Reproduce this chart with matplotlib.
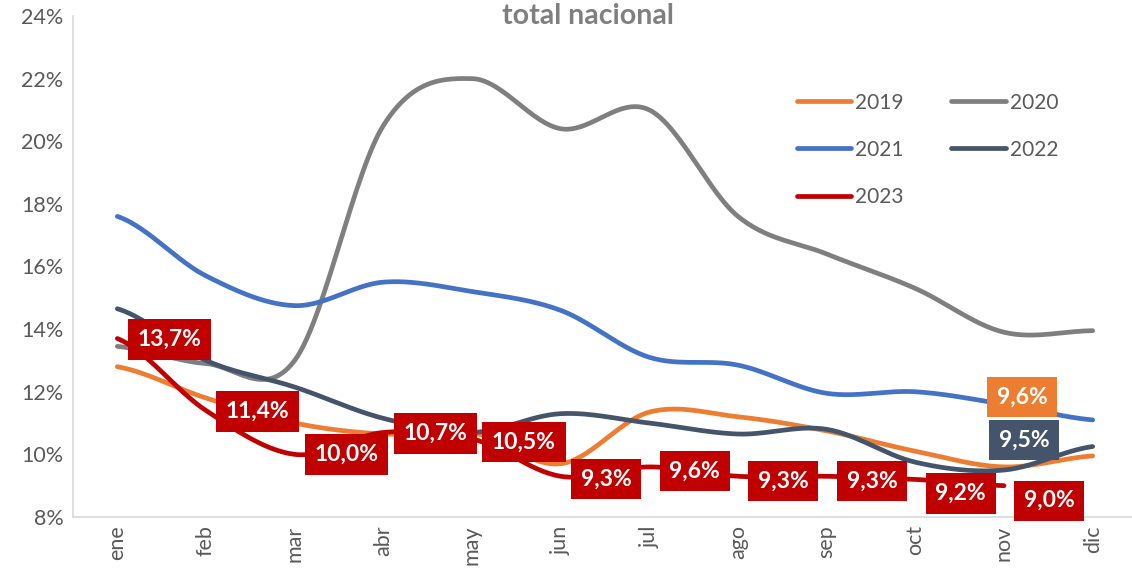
import numpy as np
import matplotlib
matplotlib.use("Agg")
import matplotlib.pyplot as plt
from matplotlib.ticker import FuncFormatter

plt.rcParams['font.family'] = ['Lato', 'DejaVu Sans']

# ---------------------------------------------------------------
# Data (tasa mensual, %)
# ---------------------------------------------------------------
months = ["ene", "feb", "mar", "abr", "may", "jun",
          "jul", "ago", "sep", "oct", "nov", "dic"]
y2019 = [12.8, 11.8, 11.0, 10.65, 10.7, 9.7, 11.35, 11.2, 10.75, 10.1, 9.6, 9.95]
y2020 = [13.45, 12.9, 13.0, 20.5, 22.0, 20.4, 21.0, 17.6, 16.4, 15.3, 13.9, 13.95]
y2021 = [17.6, 15.7, 14.75, 15.5, 15.2, 14.6, 13.1, 12.85, 11.95, 12.0, 11.6, 11.1]
y2022 = [14.65, 13.0, 12.15, 11.15, 10.7, 11.3, 11.0, 10.65, 10.8, 9.75, 9.5, 10.25]
y2023 = [13.7, 11.4, 10.0, 10.7, 10.5, 9.3, 9.6, 9.3, 9.3, 9.2, 9.0]

series = [("2019", y2019, "#ED7D31"),
          ("2020", y2020, "#7F7F7F"),
          ("2021", y2021, "#4472C4"),
          ("2022", y2022, "#44546A"),
          ("2023", y2023, "#C00000")]


def smooth(y, n=30):
    """Excel-style smoothed line (Catmull-Rom between category points)."""
    y = np.asarray(y, dtype=float)
    x = np.arange(len(y), dtype=float)
    ext = np.concatenate([[y[0]], y, [y[-1]]])
    xs, ys = [], []
    for i in range(len(y) - 1):
        p0, p1, p2, p3 = ext[i], ext[i + 1], ext[i + 2], ext[i + 3]
        m1 = (p2 - p0) / 2.0
        m2 = (p3 - p1) / 2.0
        t = np.linspace(0, 1, n, endpoint=(i == len(y) - 2))
        h00 = 2 * t**3 - 3 * t**2 + 1
        h10 = t**3 - 2 * t**2 + t
        h01 = -2 * t**3 + 3 * t**2
        h11 = t**3 - t**2
        xs.append(x[i] + t)
        ys.append(h00 * p1 + h10 * m1 + h01 * p2 + h11 * m2)
    return np.concatenate(xs), np.concatenate(ys)


fig = plt.figure(figsize=(11.32, 5.76), dpi=100)
ax = fig.add_axes([73 / 1132, 1 - 517 / 576, 1064 / 1132, 501 / 576])

lines = {}
for name, vals, color in series:
    xs, ys = smooth(vals)
    lines[name], = ax.plot(xs, ys, color=color, lw=3.4, solid_capstyle="round",
                           label=name, zorder=2)

ax.set_xlim(-0.5, 11.5)
ax.set_ylim(8, 24)
ax.set_yticks(np.arange(8, 25, 2))
ax.yaxis.set_major_formatter(FuncFormatter(lambda v, p: f"{v:.0f}%"))
ax.set_xticks(range(12))
ax.set_xticklabels(months, rotation=90)
ax.tick_params(axis="both", length=0, labelsize=15.5, colors="#595959")
ax.tick_params(axis="y", pad=7)
ax.tick_params(axis="x", pad=6)
for s in ["top", "right"]:
    ax.spines[s].set_visible(False)
for s in ["left", "bottom"]:
    ax.spines[s].set_color("#D9D9D9")
    ax.spines[s].set_linewidth(1.2)

fig.text(588 / 1132, 1 - 16 / 576, "total nacional", ha="center", va="center",
         fontsize=20.5, fontweight="bold", color="#7F7F7F")

# ---------------------------------------------------------------
# Data labels
# ---------------------------------------------------------------
def fmt(v):
    return f"{v:.1f}%".replace(".", ",")

box = dict(boxstyle="square,pad=0.42", ec="none")
label_dy = [-1, -1, 0, -1, -3, -3, -4, -5, -5, -14, -15]
for i, v in enumerate(y2023):
    ax.annotate(fmt(v), (i, v), xytext=(20, label_dy[i]), textcoords="offset pixels",
                ha="left", va="center", fontsize=16.5, fontweight="bold", color="white",
                bbox=dict(box, fc="#C00000"), zorder=5)

ax.annotate(fmt(y2019[10]), (10, y2019[10]), xytext=(18, 70), textcoords="offset pixels",
            ha="center", va="center", fontsize=16.5, fontweight="bold", color="white",
            bbox=dict(box, fc="#ED7D31"), zorder=5)
ax.annotate(fmt(y2022[10]), (10, y2022[10]), xytext=(20, 30), textcoords="offset pixels",
            ha="center", va="center", fontsize=16.5, fontweight="bold", color="white",
            bbox=dict(box, fc="#44546A"), zorder=5)

# legend filled row by row, like the original
order = ["2019", "2021", "2023", "2020", "2022"]
leg = ax.legend([lines[k] for k in order], order, ncol=2, frameon=False, loc="upper left",
                bbox_to_anchor=(780 / 1132, 1 - 76 / 576), bbox_transform=fig.transFigure,
                fontsize=15, handlelength=2.6, handletextpad=0.2, labelspacing=1.3,
                columnspacing=2.3, borderpad=0.3)
for t in leg.get_texts():
    t.set_color("#595959")

fig.savefig("out.png", dpi=100)
